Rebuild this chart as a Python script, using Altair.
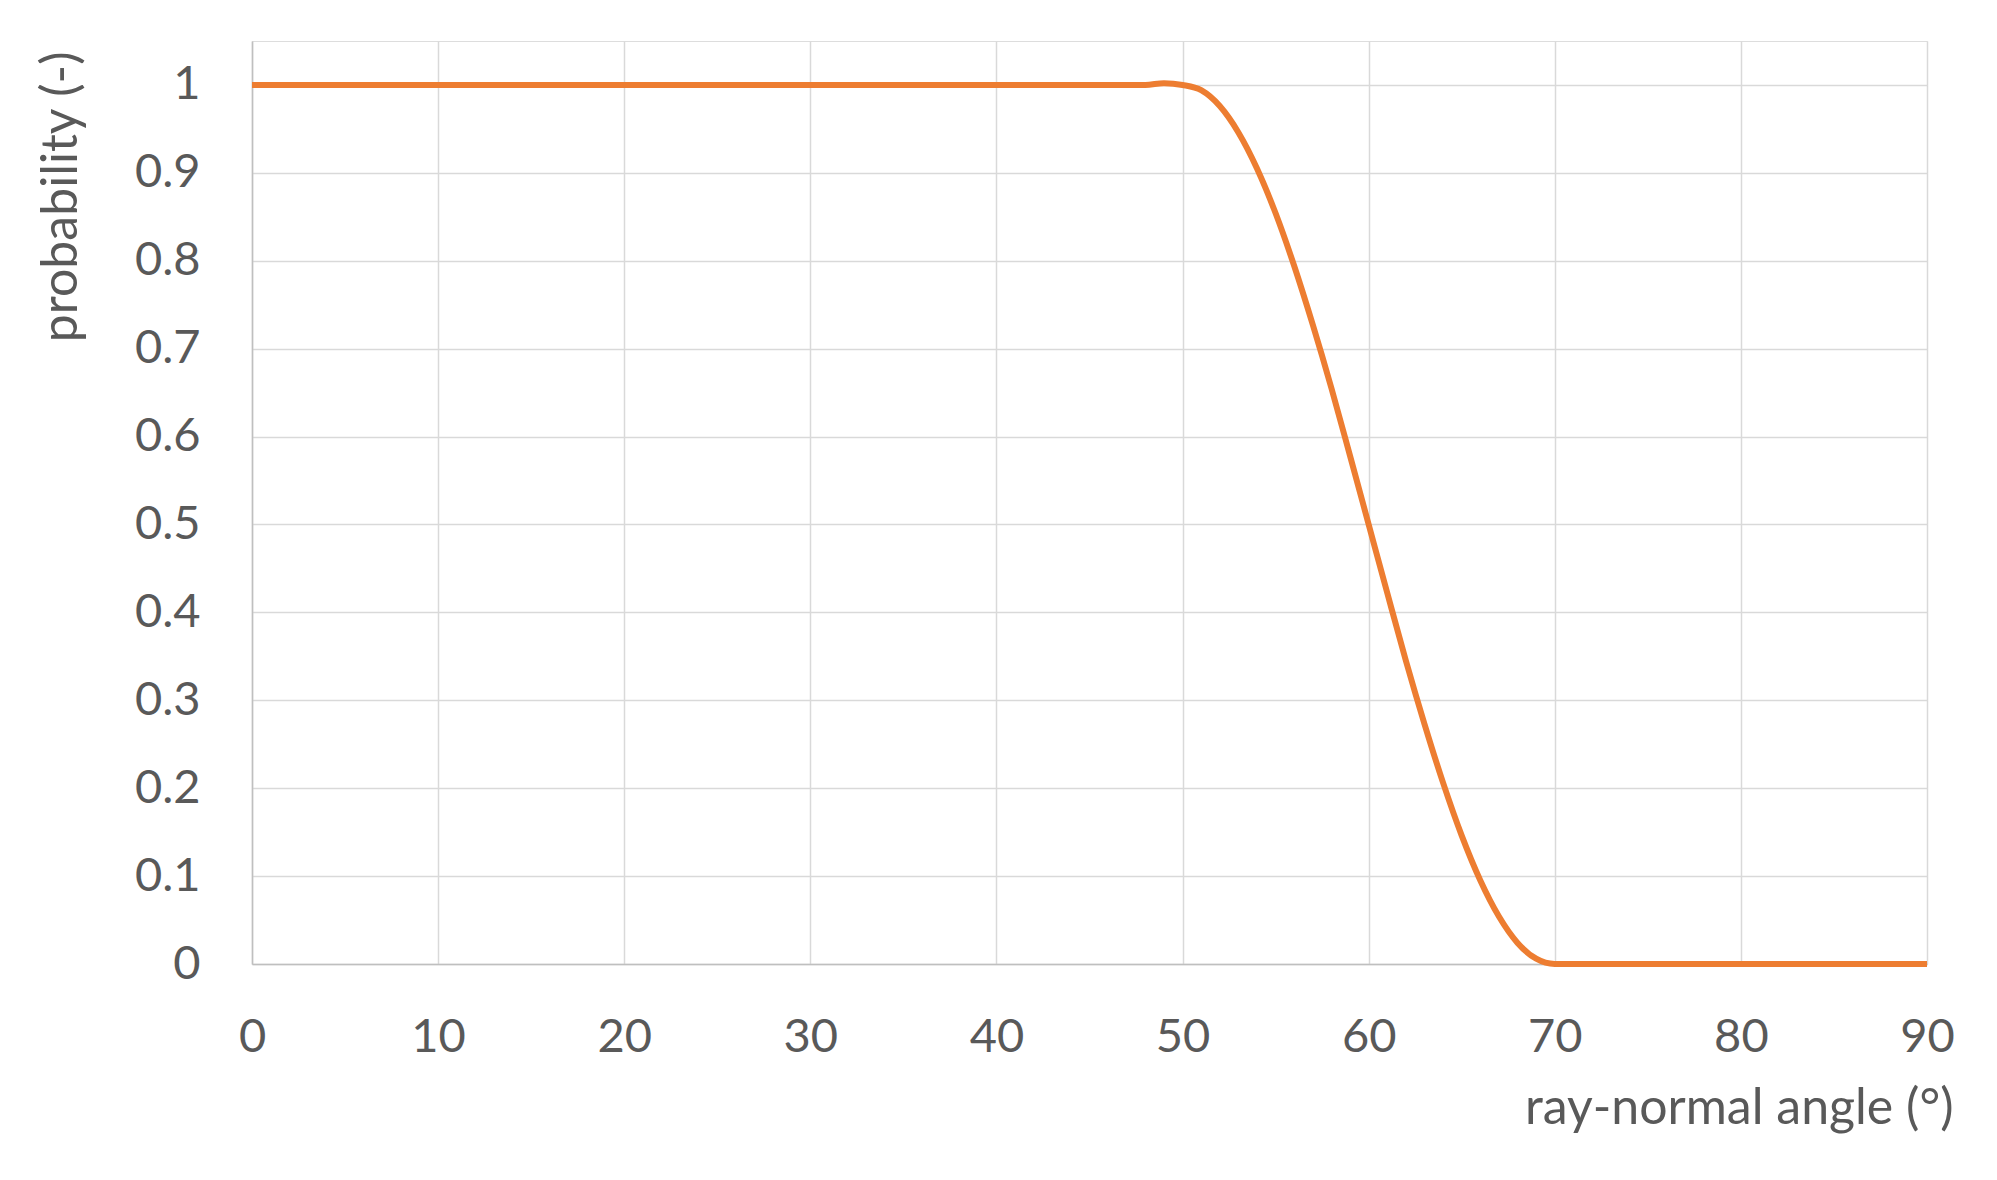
import altair as alt
import pandas as pd

# values
angle = [0, 10, 20, 30, 40, 45, 48, 49, 50, 51, 52, 53, 54, 55, 56, 57, 58, 59, 60,
         61, 62, 63, 64, 65, 66, 67, 68, 69, 70, 75, 80, 85, 90]
prob = [1.0, 1.0, 1.0, 1.0, 1.0, 1.0, 1.0, 1.002, 1.0, 0.994, 0.976, 0.946, 0.905,
        0.854, 0.794, 0.727, 0.655, 0.578, 0.5, 0.422, 0.345, 0.273, 0.206, 0.146,
        0.095, 0.054, 0.024, 0.006, 0.0, 0.0, 0.0, 0.0, 0.0]

x_ticks = [0, 10, 20, 30, 40, 50, 60, 70, 80, 90]
y_ticks = [0, 0.1, 0.2, 0.3, 0.4, 0.5, 0.6, 0.7, 0.8, 0.9, 1]

df = pd.DataFrame({"angle": angle, "prob": prob})

FONT = "Lato"
TXT = "#595959"

chart = alt.Chart(df).mark_line(
    color="#ED7D31", strokeWidth=6, interpolate="monotone", strokeCap="butt"
).encode(
    x=alt.X("angle:Q",
            scale=alt.Scale(domain=[0, 90], nice=False, zero=False),
            axis=alt.Axis(values=x_ticks, title="ray-normal angle (°)",
                          grid=True, gridColor="#D9D9D9", gridWidth=1.5,
                          domainColor="#BFBFBF", domainWidth=1.5,
                          ticks=False, tickSize=0, labelPadding=50,
                          labelFlush=False, labelOverlap=False,
                          labelFont=FONT, labelFontSize=47, labelColor=TXT,
                          titleFont=FONT, titleFontSize=50, titleColor=TXT,
                          titleFontWeight="normal", titleAlign="right",
                          titleBaseline="alphabetic", titleX=1701, titleY=159)),
    y=alt.Y("prob:Q",
            scale=alt.Scale(domain=[0, 1.05], nice=False, zero=False),
            axis=alt.Axis(values=y_ticks, title="probability (-)", format="~g",
                          grid=True, gridColor="#D9D9D9", gridWidth=1.5,
                          domainColor="#BFBFBF", domainWidth=1.5,
                          ticks=False, tickSize=0, labelPadding=52,
                          labelOverlap=False,
                          labelFont=FONT, labelFontSize=47, labelColor=TXT,
                          labelBaseline="middle",
                          titleFont=FONT, titleFontSize=50, titleColor=TXT,
                          titleFontWeight="normal", titleAngle=270,
                          titleAlign="right", titleBaseline="alphabetic",
                          titleX=-176, titleY=10)),
).properties(
    width=1675, height=923,
    autosize=alt.AutoSizeParams(type="none"),
    padding={"left": 244, "top": 33, "right": 62, "bottom": 200},
).configure_view(stroke=None).configure(background="white")

chart.save("out.html", embed_options={"renderer": "svg", "actions": False})
